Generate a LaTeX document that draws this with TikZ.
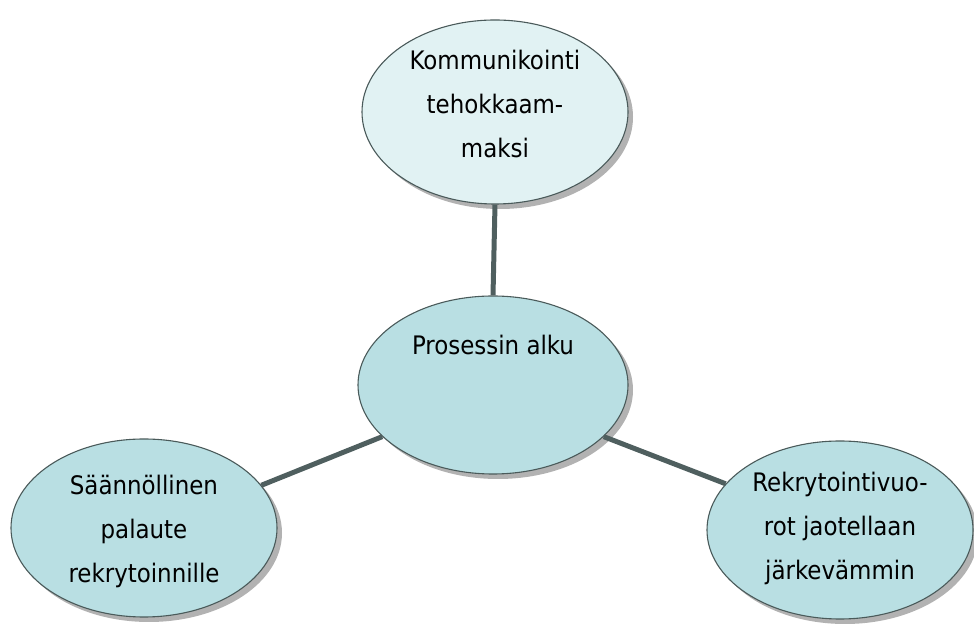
\documentclass[tikz,border=0pt]{standalone}
\usepackage{fontspec}
\setmainfont{DejaVu Sans Condensed}
\usetikzlibrary{shapes.geometric,shadows}
\definecolor{rimgray}{HTML}{4A5A5A}
\definecolor{linkgray}{HTML}{4F5F5F}
\definecolor{palecyan}{HTML}{E1F2F3}
\definecolor{softcyan}{HTML}{B9DFE3}
\tikzset{
  bubble/.style={ellipse, draw=rimgray, line width=1.1pt, inner sep=0pt,
    minimum width=266pt, minimum height=178pt,
    drop shadow={shadow xshift=5pt, shadow yshift=-5pt, fill=black!30, opacity=1}},
  label/.style={align=center, font=\fontsize{25.5}{44}\selectfont},
  link/.style={draw=linkgray, line width=5pt}
}
\begin{document}
\begin{tikzpicture}[x=1pt,y=1pt]
  \useasboundingbox (0,0) rectangle (974,628);
  % ellipses
  \node[bubble, fill=palecyan, minimum height=184pt] (top) at (495,516) {};
  \node[bubble, fill=softcyan, minimum width=270pt] (hub) at (493,243) {};
  \node[bubble, fill=softcyan] (left) at (144,100) {};
  \node[bubble, fill=softcyan] (right) at (840,98) {};
  % connectors
  \draw[link] (top.south) -- (hub.north);
  \draw[link] (left.20) -- (hub.205);
  \draw[link] (hub.335) -- (right.158);
  % texts
  \node[label] (toptext) at (495,524) {Kommunikointi\\tehokkaam-\\maksi};
  \node[label] (hubtext) at (493,283) {Prosessin alku};
  \node[label] (lefttext) at (144,97) {Säännöllinen\\palaute\\rekrytoinnille};
  \node[label] (righttext) at (840,100) {Rekrytointivuo-\\rot jaotellaan\\järkevämmin};
\end{tikzpicture}
\end{document}
